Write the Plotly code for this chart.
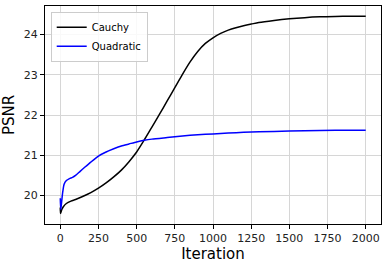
import plotly.graph_objects as go

# Cauchy series
cauchy_iter = [0, 2, 10, 20, 40, 70, 100, 150, 200, 250, 300, 350, 400, 450, 500, 550, 600, 650, 700, 750,
               800, 850, 900, 950, 1000, 1050, 1100, 1150, 1200, 1250, 1300, 1400, 1500, 1600, 1700, 1800, 1900, 2000]
cauchy_psnr = [19.70, 19.55, 19.65, 19.72, 19.80, 19.86, 19.90, 19.98, 20.07, 20.18, 20.31, 20.46, 20.63, 20.84,
               21.08, 21.38, 21.70, 22.02, 22.35, 22.68, 23.01, 23.32, 23.58, 23.78, 23.92, 24.03, 24.11,
               24.17, 24.22, 24.26, 24.30, 24.35, 24.39, 24.42, 24.44, 24.45, 24.455, 24.455]

# Quadratic series
quad_iter = [0, 3, 8, 15, 25, 40, 60, 80, 100, 130, 160, 200, 250, 300, 350, 400, 450, 500, 550, 600, 700, 800,
             900, 1000, 1100, 1200, 1400, 1600, 1800, 2000]
quad_psnr = [19.93, 19.65, 19.80, 20.05, 20.28, 20.37, 20.42, 20.45, 20.50, 20.60, 20.70, 20.83, 20.98, 21.08,
             21.16, 21.23, 21.28, 21.33, 21.37, 21.40, 21.44, 21.48, 21.51, 21.53, 21.55, 21.57, 21.59, 21.61,
             21.62, 21.62]

x_ticks = [0, 250, 500, 750, 1000, 1250, 1500, 1750, 2000]
y_ticks = [20, 21, 22, 23, 24]

FONT = "DejaVu Sans"

fig = go.Figure()
fig.add_trace(go.Scatter(x=cauchy_iter, y=cauchy_psnr, mode="lines", name="Cauchy",
                         line=dict(color="black", width=1.5, shape="spline", smoothing=0.8)))
fig.add_trace(go.Scatter(x=quad_iter, y=quad_psnr, mode="lines", name="Quadratic",
                         line=dict(color="#0000ff", width=1.5, shape="spline", smoothing=0.6)))

axis_common = dict(showline=True, linecolor="black", linewidth=1, mirror=True,
                   ticks="outside", ticklen=4, tickwidth=1, tickcolor="black",
                   showgrid=True, gridcolor="#d6d6d6", gridwidth=1, zeroline=False,
                   automargin=False,
                   tickfont=dict(family=FONT, size=11, color="#222222"))

fig.update_layout(
    width=386, height=266,
    margin=dict(l=45, r=5, t=6, b=42),
    paper_bgcolor="white", plot_bgcolor="white",
    font=dict(family=FONT, color="black"),
    xaxis=dict(range=[-100, 2100], tickvals=x_ticks,
               title=dict(text="Iteration", font=dict(family=FONT, size=15), standoff=0),
               **axis_common),
    yaxis=dict(range=[19.29, 24.71], tickvals=y_ticks,
               title=dict(text="PSNR", font=dict(family=FONT, size=15), standoff=6),
               **axis_common),
    legend=dict(x=0.017, y=0.974, xanchor="left", yanchor="top",
                bgcolor="rgba(255,255,255,0.85)", bordercolor="#cccccc", borderwidth=1,
                font=dict(family=FONT, size=10), tracegroupgap=0, itemwidth=30),
    showlegend=True,
)

fig.write_html("out.html", config={"displayModeBar": False},
               post_script="document.body.style.margin='0';document.body.style.overflow='hidden';")
